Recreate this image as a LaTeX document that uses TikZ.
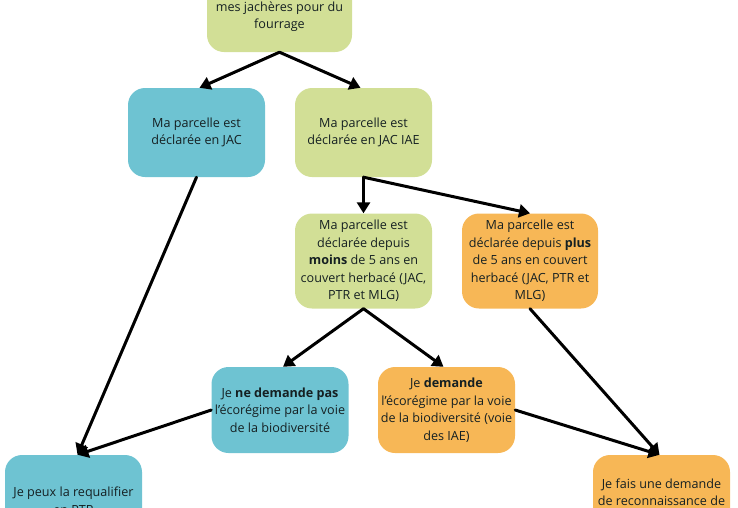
\documentclass[tikz,border=0pt]{standalone}
\usepackage{fontspec}
\setmainfont{Open Sans}
\usetikzlibrary{arrows.meta}
\definecolor{cblue}{HTML}{6EC3D2}
\definecolor{cgreen}{HTML}{D2DF96}
\definecolor{corange}{HTML}{F7B756}
\definecolor{ctxt}{HTML}{152022}
\begin{document}
\begin{tikzpicture}[x=1pt,y=-1pt,
  box/.style={rounded corners=17pt, inner sep=0pt, align=center, text=ctxt,
    font=\fontsize{12.6}{17.5}\selectfont},
  bluebox/.style={box, fill=cblue},
  greenbox/.style={box, fill=cgreen},
  orangebox/.style={box, fill=corange},
  arr/.style={line width=3pt, line cap=round, -{Triangle[width=13pt,length=11pt]}}]
\useasboundingbox (0,0) rectangle (738,507);
\clip (0,0) rectangle (738,507);
\node[greenbox, minimum width=145pt, minimum height=71pt] (top) at (279.5,16.5)
  {mes jachères pour du\\fourrage};
\node[bluebox, minimum width=137pt, minimum height=89pt] (jac) at (196.5,132.5)
  {Ma parcelle est\\déclarée en JAC};
\node[greenbox, minimum width=137pt, minimum height=89pt] (iae) at (363.5,132.5)
  {Ma parcelle est\\déclarée en JAC IAE};
\node[greenbox, minimum width=137pt, minimum height=95pt] (moins) at (363.5,261)
  {Ma parcelle est\\déclarée depuis\\\textbf{moins} de 5 ans en\\couvert herbacé (JAC,\\PTR et MLG)};
\node[orangebox, minimum width=136pt, minimum height=95pt] (plus) at (530,261)
  {Ma parcelle est\\déclarée depuis \textbf{plus}\\de 5 ans en couvert\\herbacé (JAC, PTR et\\MLG)};
\node[bluebox, minimum width=137pt, minimum height=86pt] (nedem) at (280,410)
  {Je \textbf{ne demande pas}\\l’écorégime par la voie\\de la biodiversité};
\node[orangebox, minimum width=137pt, minimum height=86pt] (dem) at (446.5,410)
  {Je \textbf{demande}\\l’écorégime par la voie\\de la biodiversité (voie\\des IAE)};
\node[bluebox, minimum width=137pt, minimum height=91pt] (requal) at (73.5,500.5)
  {Je peux la requalifier\\en PTR};
\node[orangebox, minimum width=137pt, minimum height=74pt] (jefais) at (661.5,492)
  {Je fais une demande\\de reconnaissance de};
\draw[arr] (top.south) -- ([xshift=3pt]jac.north);
\draw[arr] (top.south) -- ([xshift=-3pt]iae.north);
\draw[arr] (iae.south) -- (moins.north);
\draw[arr] (iae.south) -- (plus.north);
\draw[arr] (moins.south) -- ([xshift=3pt]nedem.north);
\draw[arr] (moins.south) -- ([xshift=-3pt]dem.north);
\draw[arr] (jac.south) -- ([xshift=4pt]requal.north);
\draw[arr] (nedem.west) -- ([xshift=4pt]requal.north);
\draw[arr] (plus.south) -- ([xshift=-2pt]jefais.north);
\draw[arr] (dem.east) -- ([xshift=-2pt]jefais.north);
\end{tikzpicture}
\end{document}
